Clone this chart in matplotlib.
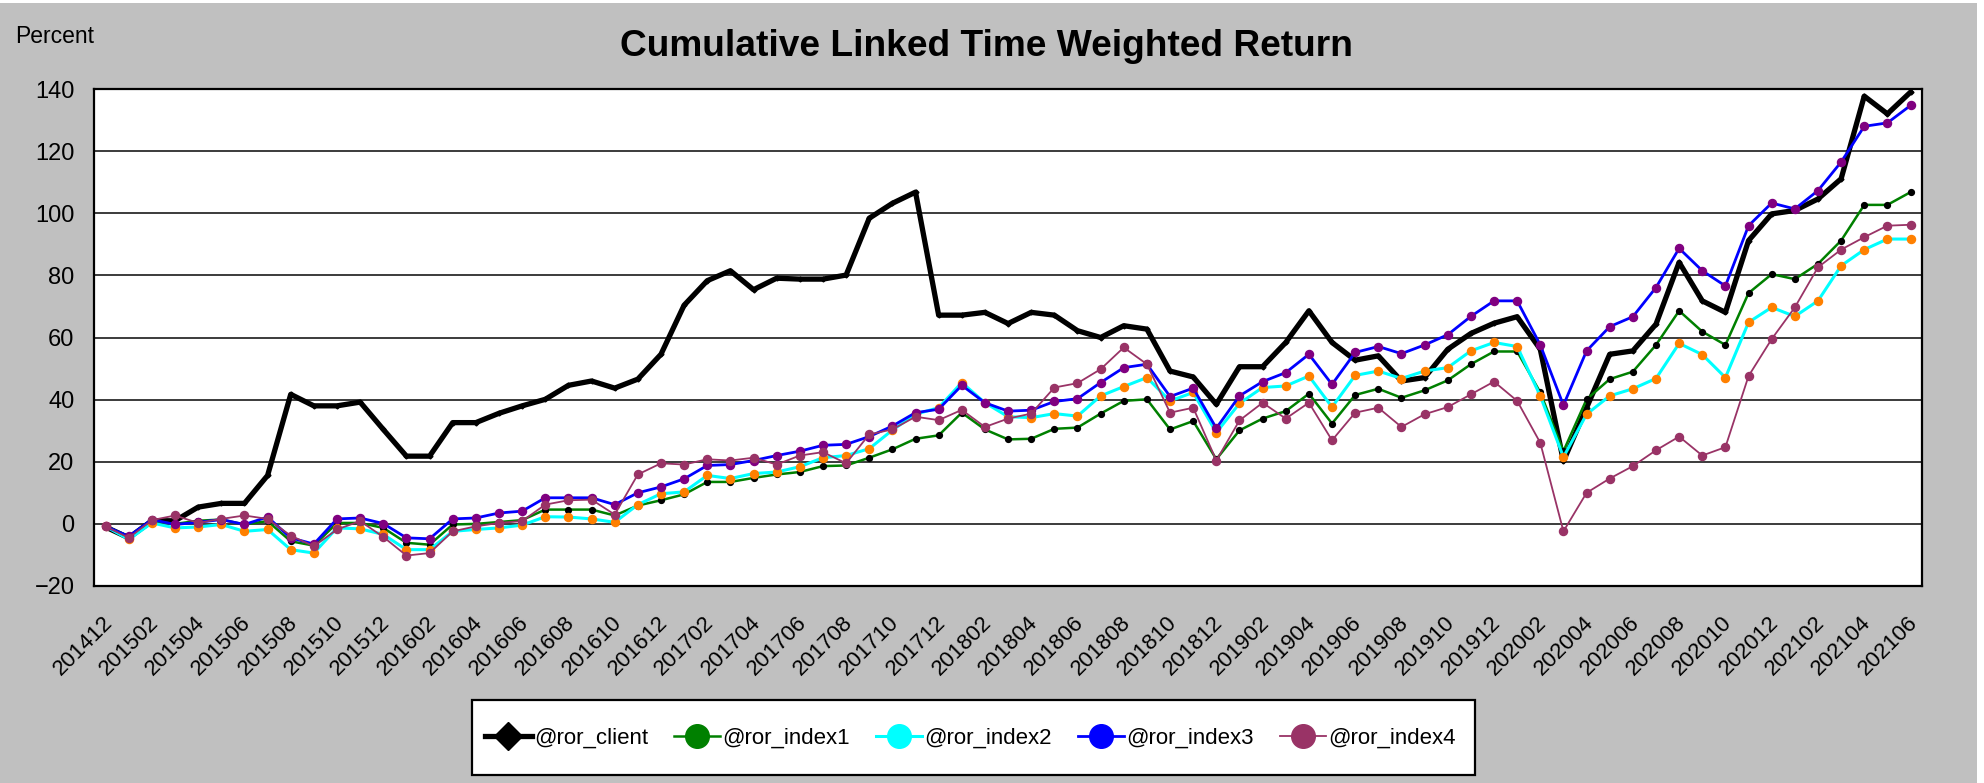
# Cumulative Linked Time Weighted Return - client vs indexes
import pandas as pd
import numpy as np
import matplotlib
matplotlib.use('Agg')
import matplotlib.pyplot as plt
from matplotlib.lines import Line2D
from matplotlib.patches import Rectangle
import matplotlib.transforms as mtransforms

plt.rcParams['font.family'] = ['Liberation Sans', 'DejaVu Sans']

# Data, monthly 201412 .. 202106
months = list(pd.period_range('2014-12', '2021-06', freq='M').strftime('%Y%m'))

ror_client = [-1, -4.5, 1, 1, 5.4, 6.6, 6.6, 15.6, 41.7, 38, 38, 39.2, 30.4, 21.8,
              21.8, 32.6, 32.6, 35.6, 38, 40.1, 44.6, 46, 43.7, 46.6, 54.6, 70.4, 78.3, 81.5,
              75.4, 79.1, 78.8, 78.8, 80.1, 98.4, 103.2, 106.8, 67.2, 67.2, 68.1, 64.5, 68.1,
              67.2, 62.2, 60, 63.8, 62.7, 49.2, 47.3, 38.5, 50.6, 50.6, 58.4, 68.6, 58.4, 52.7,
              54.1, 46, 47.1, 56.2, 61.3, 64.6, 66.7, 56.2, 20.2, 37.4, 54.6, 55.7, 64.3, 84.2,
              71.8, 68.1, 91.2, 99.8, 100.9, 104.6, 111.1, 137.7, 132, 139]

ror_index1 = [-0.8, -4, 0.9, 0, 1, 1.4, -0.2, 0.9, -5.6, -7, 0.3, 0.3, -1.3, -6.1,
              -6.7, -0.2, 0, 0.6, 1.2, 4.6, 4.6, 4.6, 2.7, 5.9, 7.6, 9.5, 13.5, 13.5,
              14.8, 15.9, 16.7, 18.6, 18.8, 21.3, 24, 27.4, 28.5, 35.8, 30.4, 27.2, 27.4,
              30.6, 31, 35.5, 39.6, 40.1, 30.4, 33.1, 20.8, 30.1, 33.9, 36.3, 41.9, 32.3, 41.5,
              43.5, 40.6, 43, 46.2, 51.4, 55.5, 55.5, 42.3, 23.4, 40.1, 46.6, 49, 57.6, 68.6,
              61.9, 57.6, 74.3, 80.4, 78.8, 83.7, 91.2, 102.7, 102.7, 106.8]

ror_index2 = [-0.8, -5, 0.3, -1.3, -1, -0.2, -2.4, -1.8, -8.3, -9.4, -1.3, -1.6, -3.4, -8.3,
              -8.3, -2.4, -1.8, -1.3, -0.4, 2.3, 2.2, 1.6, 0.5, 6.2, 9.7, 10.3, 15.6, 14.6,
              16.2, 16.7, 18.4, 21.3, 22, 24.2, 30.2, 35.3, 37.4, 45.5, 39, 34.5, 34.2,
              35.5, 34.7, 41.2, 44.2, 47.1, 39.6, 42.3, 29.4, 38.8, 43.9, 44.4, 47.6, 37.6, 47.8,
              49.2, 46.8, 49.2, 50.3, 55.7, 58.4, 57.1, 41.2, 21.5, 35.3, 41.2, 43.5, 46.8, 58.1,
              54.5, 47.1, 64.9, 69.7, 66.8, 71.8, 83.1, 88.3, 91.7, 91.7]

ror_index3 = [-0.8, -4, 1.4, -0.2, 0.5, 1.4, -0.2, 2.2, -4.5, -6.5, 1.6, 1.9, 0.1, -4.5,
              -4.8, 1.6, 1.9, 3.5, 4.1, 8.4, 8.4, 8.4, 6.2, 10, 11.9, 14.5, 18.8, 19.1,
              20.4, 22, 23.4, 25.3, 25.6, 28.1, 31.5, 35.8, 36.9, 44.6, 39, 36.3, 36.6,
              39.4, 40.3, 45.5, 50.3, 51.4, 41, 43.7, 30.8, 41.2, 45.8, 48.7, 54.6, 44.9, 55.2,
              57.1, 54.8, 57.6, 60.9, 66.8, 71.8, 71.8, 57.6, 38.2, 55.7, 63.5, 66.7, 76.1, 88.7,
              81.5, 76.6, 96, 103.3, 101.4, 107.3, 116.5, 128, 129.1, 134.7]

ror_index4 = [-0.8, -4.5, 1.2, 2.7, 0.3, 1.6, 2.7, 1.6, -3.8, -7.2, -1.8, 0.9, -4.2, -10.2,
              -9.4, -2.4, -0.8, 0.3, 0.9, 6.2, 7.6, 7.8, 3, 15.9, 19.5, 19.1, 20.8, 20.4,
              21.3, 19.1, 22, 23.1, 19.5, 28.8, 30.4, 34.5, 33.4, 36.7, 31.2, 33.9, 35.5,
              43.9, 45.3, 49.8, 56.8, 51.4, 35.8, 37.4, 20.4, 33.3, 39, 33.9, 39, 26.9, 35.8,
              37.4, 31.2, 35.3, 37.6, 41.7, 45.8, 39.6, 26.1, -2.4, 10, 14.6, 18.6, 23.7, 28.1,
              22, 24.7, 47.6, 59.5, 69.7, 82.6, 88.3, 92.3, 96, 96.3]

labels = ['@ror_client', '@ror_index1', '@ror_index2', '@ror_index3', '@ror_index4']

x = np.arange(len(months))

fig = plt.figure(figsize=(19.84, 7.83), dpi=100)
fig.patch.set_facecolor('white')
fig.patches.append(Rectangle((0, 0), 1977 / 1984, 1 - 3 / 783, transform=fig.transFigure,
                             facecolor='#C0C0C0', edgecolor='none', zorder=-10))

ax = fig.add_axes([0.0474, 0.2516, 0.9214, 0.6347])
ax.set_facecolor('white')

ax.plot(x, ror_client, color='black', lw=3.8, marker='D', ms=2.5, zorder=3)
ax.plot(x, ror_index1, color='#008000', lw=1.8, marker='o', ms=4.2,
        mfc='black', mec='black', zorder=4)
ax.plot(x, ror_index2, color='#00FFFF', lw=2.2, marker='o', ms=5.8,
        mfc='#FF8000', mec='#FF8000', zorder=5)
ax.plot(x, ror_index3, color='#0000FF', lw=2.0, marker='o', ms=5.8,
        mfc='#800080', mec='#800080', zorder=6)
ax.plot(x, ror_index4, color='#993366', lw=1.3, marker='o', ms=5.8,
        mfc='#993366', mec='#993366', zorder=7)

ax.set_xlim(-0.5, len(months) - 0.5)
ax.set_ylim(-20, 140)
ax.set_yticks(range(-20, 141, 20))
ax.yaxis.grid(True, color='#1a1a1a', lw=1.2, zorder=1)
ax.set_axisbelow(True)
for s in ax.spines.values():
    s.set_color('black')
    s.set_linewidth(1.6)

ax.set_xticks(x[::2])
ax.set_xticklabels(months[::2], rotation=45, ha='right', fontsize=16)
ax.tick_params(axis='x', length=0, pad=19)
ax.tick_params(axis='y', length=0, pad=14, labelsize=17)
offset = mtransforms.ScaledTranslation(0.11, 0, fig.dpi_scale_trans)
for lab in ax.get_xticklabels():
    lab.set_transform(lab.get_transform() + offset)

fig.text(0.0076, 0.953, 'Percent', va='center', ha='left', fontsize=16.5)
fig.text(0.497, 0.941, 'Cumulative Linked Time Weighted Return', ha='center', va='center',
         fontsize=26.7, fontweight='bold')

# legend box drawn separately (the original has more room on the right)
fig.patches.append(Rectangle((472 / 1984, 1 - 775 / 783), 1003 / 1984, 75 / 783,
                             transform=fig.transFigure, facecolor='white',
                             edgecolor='black', lw=1.6, zorder=-5))
handles = [
    Line2D([], [], color='black', lw=3.8, marker='D', ms=14, mfc='black', mec='black'),
    Line2D([], [], color='#008000', lw=1.8, marker='o', ms=17, mfc='#008000', mec='#008000'),
    Line2D([], [], color='#00FFFF', lw=2.2, marker='o', ms=17, mfc='#00FFFF', mec='#00FFFF'),
    Line2D([], [], color='#0000FF', lw=2.0, marker='o', ms=17, mfc='#0000FF', mec='#0000FF'),
    Line2D([], [], color='#993366', lw=1.3, marker='o', ms=17, mfc='#993366', mec='#993366'),
]
leg = fig.legend(handles, labels, loc='center left', bbox_to_anchor=(485 / 1984, 1 - 738 / 783),
                 ncol=5, fontsize=16, frameon=False, borderpad=0, borderaxespad=0,
                 handlelength=2.1, handletextpad=0.1, columnspacing=1.15)

fig.savefig('out.png', dpi=100)
